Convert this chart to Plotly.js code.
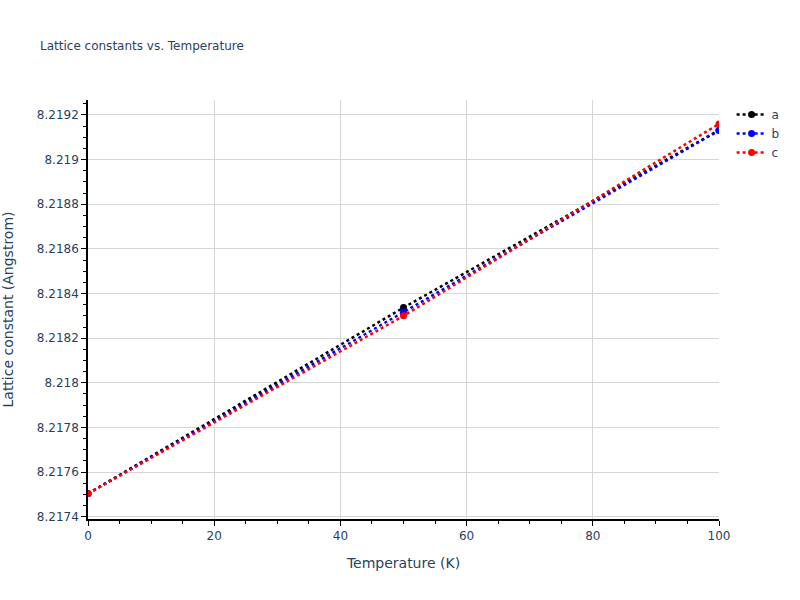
<!DOCTYPE html>
<html>
<head>
<meta charset="utf-8">
<script src="https://cdn.plot.ly/plotly-3.0.1.min.js"></script>
<style>body{margin:0;}#graph{width:800px;height:600px;}</style>
</head>
<body>
<div id="graph"></div>
<script>
// temperatures (K) and lattice constants (Angstrom)
var temps = [0, 50, 100];
var latA = [8.217504, 8.218337, 8.219132];
var latB = [8.217504, 8.218318, 8.219130];
var latC = [8.217504, 8.218300, 8.219160];

var names = ['a', 'b', 'c'];
var colors = ['black', 'blue', 'red'];
var series = [latA, latB, latC];

var data = [];
for (let i = 0; i < series.length; i++) {
    data.push({
        x: temps,
        y: series[i],
        name: names[i],
        type: 'scatter',
        mode: 'lines+markers',
        line: {color: colors[i], dash: 'dot', width: 2.5},
        marker: {color: colors[i], size: 7}
    });
}

var axisStyle = {
    showline: true,
    linecolor: 'black',
    linewidth: 1.5,
    ticks: 'outside',
    tickcolor: 'black',
    ticklen: 5,
    gridcolor: '#d6d6d6',
    zeroline: false,
    tickfont: {size: 12}
};

var layout = {
    width: 800,
    height: 600,
    paper_bgcolor: 'white',
    plot_bgcolor: 'white',
    font: {family: 'DejaVu Sans, Verdana, sans-serif', color: '#2a3f5f', size: 12},
    title: {text: 'Lattice constants vs. Temperature', x: 0.05, xanchor: 'left', y: 0.93, font: {size: 12}},
    margin: {l: 88, r: 81, t: 100, b: 81},
    xaxis: Object.assign({}, axisStyle, {
        title: {text: 'Temperature (K)', font: {size: 14}, standoff: 16},
        automargin: 'top',
        range: [0, 100],
        dtick: 20,
        minor: {dtick: 5, ticks: 'outside', ticklen: 3, tickcolor: 'black', showgrid: false}
    }),
    yaxis: Object.assign({}, axisStyle, {
        title: {text: 'Lattice constant (Angstrom)', font: {size: 14}, standoff: 21},
        automargin: 'top',
        range: [8.21739, 8.219267],
        dtick: 0.0002,
        tick0: 8.2174,
        minor: {dtick: 0.00005, ticks: 'outside', ticklen: 3, tickcolor: 'black', showgrid: false}
    }),
    legend: {x: 1.02, y: 1, font: {size: 12}},
    showlegend: true
};

Plotly.newPlot('graph', data, layout, {displayModeBar: false});
</script>
</body>
</html>
